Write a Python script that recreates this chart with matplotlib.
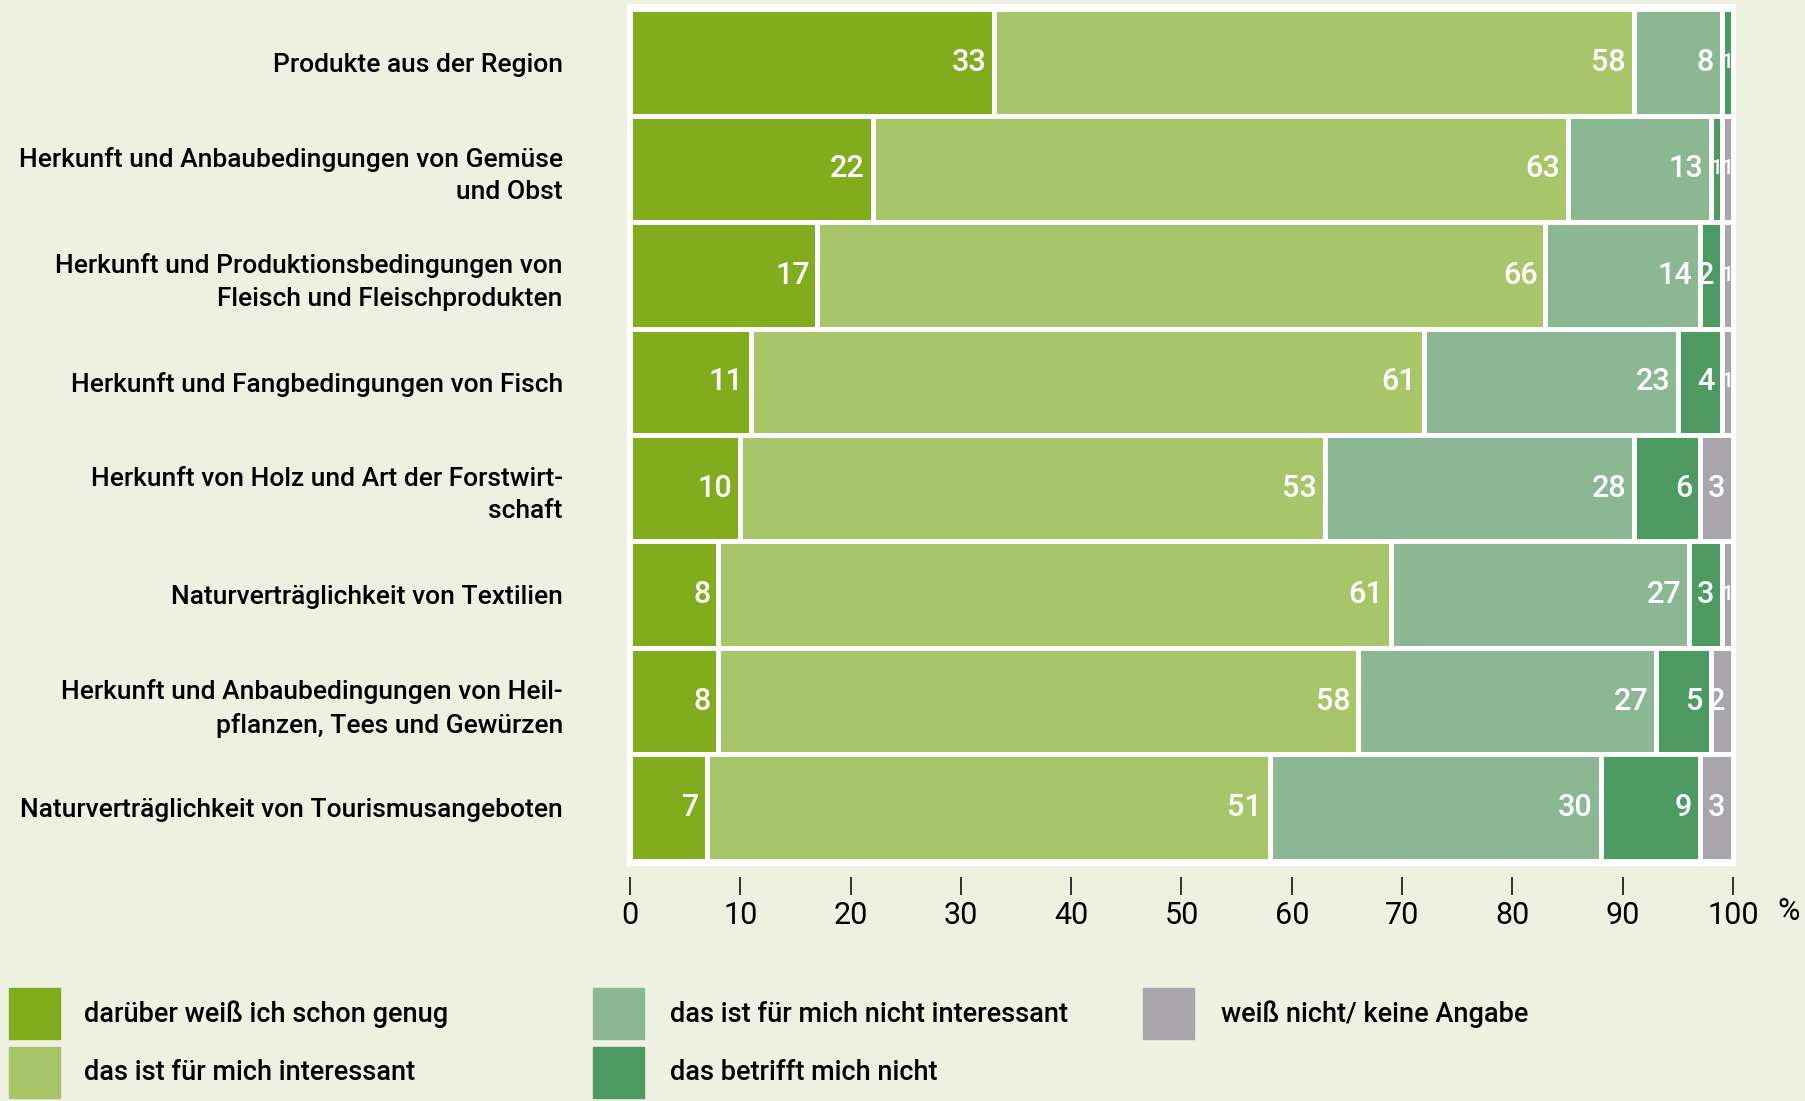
import matplotlib.pyplot as plt
from matplotlib.patches import Rectangle

plt.rcParams['font.family'] = ['Roboto', 'DejaVu Sans']

# Daten
themen = [
    "Produkte aus der Region",
    "Herkunft und Anbaubedingungen von Gemüse\nund Obst",
    "Herkunft und Produktionsbedingungen von\nFleisch und Fleischprodukten",
    "Herkunft und Fangbedingungen von Fisch",
    "Herkunft von Holz und Art der Forstwirt-\nschaft",
    "Naturverträglichkeit von Textilien",
    "Herkunft und Anbaubedingungen von Heil-\npflanzen, Tees und Gewürzen",
    "Naturverträglichkeit von Tourismusangeboten",
]
genug = [33, 22, 17, 11, 10, 8, 8, 7]
interessant = [58, 63, 66, 61, 53, 61, 58, 51]
nicht_interessant = [8, 13, 14, 23, 28, 27, 27, 30]
betrifft_nicht = [1, 1, 2, 4, 6, 3, 5, 9]
keine_angabe = [0, 1, 1, 1, 3, 1, 2, 3]

reihen = [genug, interessant, nicht_interessant, betrifft_nicht, keine_angabe]
namen = ["darüber weiß ich schon genug", "das ist für mich interessant",
         "das ist für mich nicht interessant", "das betrifft mich nicht",
         "weiß nicht/ keine Angabe"]
farben = ["#80AC1E", "#A9C56A", "#8BB892", "#4E9A63", "#A8A6AB"]
xticks = [0, 10, 20, 30, 40, 50, 60, 70, 80, 90, 100]

bg = "#EEF1E2"
fig = plt.figure(figsize=(18.06, 11.01), dpi=100, facecolor=bg)
ax = fig.add_axes([0.347, 0.2134, 0.6144, 0.783])
ax.set_facecolor("white")
ax.spines["bottom"].set_position(("outward", 8))
for s in ax.spines.values():
    s.set_visible(False)

y = list(range(len(themen)))
links = [0] * len(themen)
for werte, farbe in zip(reihen, farben):
    ax.barh(y, werte, left=links, height=1.0, color=farbe,
            edgecolor="white", linewidth=3.5)
    for i, w in enumerate(werte):
        if w == 0:
            continue
        ende = links[i] + w
        if w >= 2:
            ax.text(ende - 0.7, i, str(w), ha="right", va="center",
                    color="white", fontsize=22, fontweight="medium")
        else:
            ax.text(ende - 0.5, i, str(w), ha="center", va="center",
                    color="white", fontsize=15, fontweight="medium")
    links = [l + w for l, w in zip(links, werte)]

ax.set_xlim(-0.3, 100.3)
ax.set_ylim(len(themen) - 0.45, -0.55)
ax.set_yticks(y)
ax.set_yticklabels(themen, fontsize=19, fontweight="medium", linespacing=1.45)
ax.tick_params(axis="y", length=0, pad=46)
for lab in ax.get_yticklabels():
    lab.set_ha("right")
    lab.set_multialignment("right")

ax.set_xticks(xticks)
ax.set_xticklabels([str(t) for t in xticks], fontsize=22)
ax.tick_params(axis="x", direction="out", length=13, width=1.3, pad=4, color="#222222")

fig.text(1789 / 1806, 1 - 912 / 1101, "%", fontsize=22, ha="center", va="center")

# Legende
spalten = [(9, 84), (9, 84), (593, 670), (593, 670), (1143, 1221)]
zeilen = [1014, 1073, 1014, 1073, 1014]
for (qx, tx), zy, farbe, name in zip(spalten, zeilen, farben, namen):
    fig.patches.append(Rectangle((qx / 1806, 1 - (zy + 25) / 1101), 51 / 1806, 51 / 1101,
                                 transform=fig.transFigure, color=farbe))
    fig.text(tx / 1806, 1 - zy / 1101, name, fontsize=19.5, fontweight="medium",
             ha="left", va="center")

fig.savefig("out.png", dpi=100, facecolor=bg)
